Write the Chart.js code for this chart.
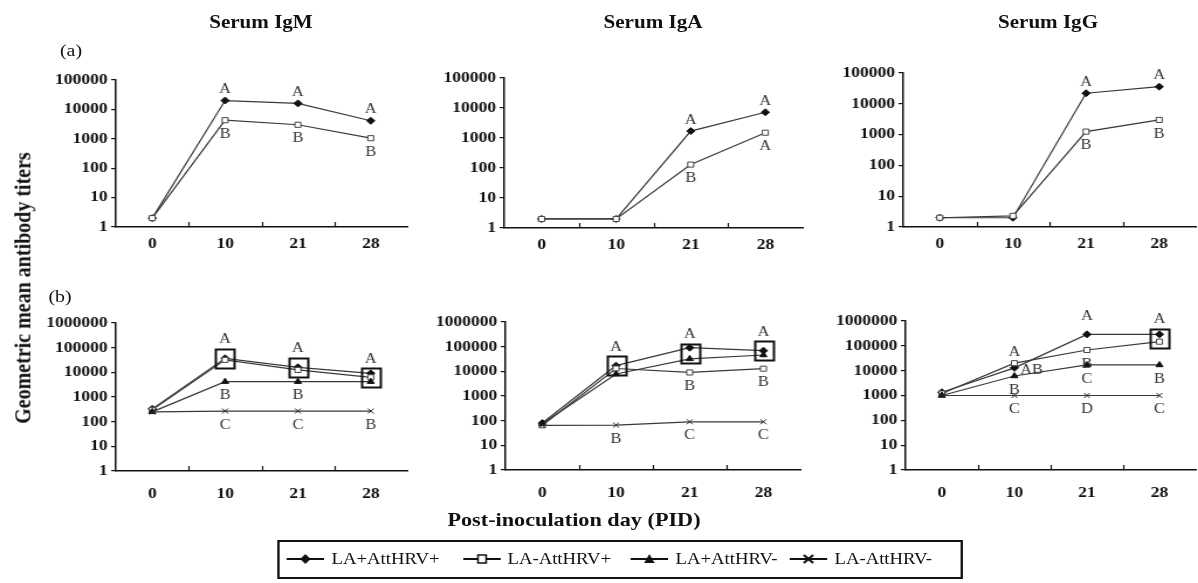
<!DOCTYPE html>
<html>
<head>
<meta charset="utf-8">
<script src="https://cdn.jsdelivr.net/npm/chart.js@4.4.1/dist/chart.umd.min.js"></script>
<style>
  html, body { margin: 0; padding: 0; background: #fff; }
  body { width: 1198px; height: 583px; overflow: hidden; position: relative; }
  #page {
    position: absolute; left: 0; top: 0; width: 1024px; height: 583px;
    transform: scaleX(1.17); transform-origin: 0 0;
    font-family: "Liberation Serif", "Times New Roman", serif; color: #111;
  }
  .t { position: absolute; white-space: nowrap; line-height: 1; }
  canvas { position: absolute; }
  #legend { position: absolute; border: 2px solid #111; box-sizing: border-box; }
  .item { position: absolute; display: flex; align-items: center; }
  .item canvas { position: static; margin-right: 6px; }
  .item span { font-size: 16px; }
</style>
</head>
<body>
<div id="page"></div>
<script>
// ---- data ----
const DAYS = ["0", "10", "21", "28"];
const GROUPS = ["LA+AttHRV+", "LA-AttHRV+", "LA+AttHRV-", "LA-AttHRV-"];

// (a) row: two groups
const igmA_LApAttp = [2, 20000, 16000, 4100];
const igmA_LAmAttp = [2, 4300, 3000, 1050];
const igaA_LApAttp = [2, 2, 1700, 7200];
const igaA_LAmAttp = [2, 2, 130, 1500];
const iggA_LApAttp = [2, 2, 22000, 36000];
const iggA_LAmAttp = [2, 2.3, 1250, 3000];

// (b) row: four groups
const igmB_LApAttp = [330, 37000, 16000, 9100];
const igmB_LAmAttp = [300, 32000, 12500, 6300];
const igmB_LApAttm = [250, 4200, 4200, 4200];
const igmB_LAmAttm = [250, 270, 270, 270];

const igaB_LApAttp = [80, 17000, 91000, 69000];
const igaB_LAmAttp = [65, 13000, 9000, 12800];
const igaB_LApAttm = [75, 7800, 32000, 46000];
const igaB_LAmAttm = [65, 66, 90, 90];

const iggB_LApAttp = [1350, 13000, 290000, 290000];
const iggB_LAmAttp = [1200, 20000, 68000, 147000];
const iggB_LApAttm = [1000, 6100, 17000, 17000];
const iggB_LAmAttm = [1000, 1000, 1000, 1000];

// significance letters: [group, day index, letter, placement]
const igmA_letters = [[0, 1, "A", "above"], [1, 1, "B", "below"], [0, 2, "A", "above"], [1, 2, "B", "below"], [0, 3, "A", "above"], [1, 3, "B", "below"]];
const igaA_letters = [[0, 2, "A", "above"], [1, 2, "B", "below"], [0, 3, "A", "above"], [1, 3, "A", "below"]];
const iggA_letters = [[0, 2, "A", "above"], [1, 2, "B", "below"], [0, 3, "A", "above"], [1, 3, "B", "below"]];
const igmB_letters = [[0, 1, "A", "box"], [2, 1, "B", "below"], [3, 1, "C", "below"],
                      [0, 2, "A", "box"], [2, 2, "B", "below"], [3, 2, "C", "below"],
                      [0, 3, "A", "box"], [3, 3, "B", "below"]];
const igaB_letters = [[0, 1, "A", "box"], [3, 1, "B", "below"],
                      [0, 2, "A", "box"], [1, 2, "B", "below"], [3, 2, "C", "below"],
                      [0, 3, "A", "box"], [1, 3, "B", "below"], [3, 3, "C", "below"]];
const iggB_letters = [[1, 1, "A", "above"], [0, 1, "AB", "right"], [2, 1, "B", "below"], [3, 1, "C", "below"],
                      [0, 2, "A", "high"], [1, 2, "B", "below"], [2, 2, "C", "below"], [3, 2, "D", "below"],
                      [0, 3, "A", "box"], [2, 3, "B", "below"], [3, 3, "C", "below"]];

// highlight boxes: [day index, groups the box is centred on]
const igmB_boxes = [[1, [0]], [2, [0]], [3, [0, 2]]];
const igaB_boxes = [[1, [0]], [2, [0, 2]], [3, [0]]];
const iggB_boxes = [[3, [0, 1]]];

// ---- layout & style ----
const K = 1.17;                 // horizontal stretch of the whole figure
const sx = (x) => x / K;        // reference px -> page px
const FONT = "Liberation Serif";
const AXIS = "#111";
const LINE = "#383838";
const YW = 80, XH = 34, PADT = 14, PADR = 6;
const BOX_W = 16, BOX_H = 19;
const GAP = { above: 11, below: 14, high: 18 };

const STYLES = [
  { pointStyle: "rectRot", radius: 3.5, fill: "#111", stroke: "#111" },
  { pointStyle: "rect", radius: 3.6, fill: "#fff", stroke: "#444" },
  { pointStyle: "triangle", radius: 3.5, fill: "#111", stroke: "#111" },
  { pointStyle: "crossRot", radius: 3.5, fill: "#111", stroke: "#222" },
];

const PANELS = [
  { area: [116, 407, 80, 227], yMax: 1e5, series: [igmA_LApAttp, igmA_LAmAttp], letters: igmA_letters, boxes: [], pad: 8 },
  { area: [504, 802, 78, 228], yMax: 1e5, series: [igaA_LApAttp, igaA_LAmAttp], letters: igaA_letters, boxes: [], pad: 8 },
  { area: [903, 1195, 73, 227], yMax: 1e5, series: [iggA_LApAttp, iggA_LAmAttp], letters: iggA_letters, boxes: [], pad: 8 },
  { area: [116, 407, 323, 471], yMax: 1e6, series: [igmB_LApAttp, igmB_LAmAttp, igmB_LApAttm, igmB_LAmAttm], letters: igmB_letters, boxes: igmB_boxes, pad: 14 },
  { area: [505, 800, 322, 470], yMax: 1e6, series: [igaB_LApAttp, igaB_LAmAttp, igaB_LApAttm, igaB_LAmAttm], letters: igaB_letters, boxes: igaB_boxes, pad: 14 },
  { area: [905, 1195, 321, 470], yMax: 1e6, series: [iggB_LApAttp, iggB_LAmAttp, iggB_LApAttm, iggB_LAmAttm], letters: iggB_letters, boxes: iggB_boxes, pad: 14 },
];

const page = document.getElementById("page");

function addText(text, cx, cy, css) {
  const el = document.createElement("div");
  el.className = "t";
  el.textContent = text;
  el.style.left = sx(cx) + "px";
  el.style.top = cy + "px";
  el.style.transform = "translate(-50%, -50%)" + (css.rotate ? " rotate(-90deg)" : "");
  el.style.fontSize = css.size + "px";
  el.style.fontWeight = css.bold ? "bold" : "normal";
  page.appendChild(el);
  return el;
}

// x ticks point up into the plot, at the category boundaries
const innerTicks = {
  id: "innerTicks",
  afterDraw(chart) {
    const { ctx, chartArea } = chart;
    const x = chart.scales.x;
    ctx.save();
    ctx.strokeStyle = AXIS;
    ctx.lineWidth = 1.2;
    for (let i = 1; i < DAYS.length; i++) {
      const px = Math.round((x.getPixelForValue(i - 1) + x.getPixelForValue(i)) / 2) + 0.5;
      ctx.beginPath();
      ctx.moveTo(px, chartArea.bottom);
      ctx.lineTo(px, chartArea.bottom - 5);
      ctx.stroke();
    }
    ctx.restore();
  },
};

// significance letters and highlight boxes
const letterMarks = {
  id: "letterMarks",
  afterDatasetsDraw(chart, args, opts) {
    const { ctx } = chart;
    const x = chart.scales.x, y = chart.scales.y;
    const sets = chart.data.datasets;
    const boxCenter = {};
    ctx.save();
    ctx.strokeStyle = AXIS;
    ctx.lineWidth = 2;
    for (const [i, groups] of opts.boxes) {
      const lv = groups.reduce((s, g) => s + Math.log10(sets[g].data[i]), 0) / groups.length;
      const cx = x.getPixelForValue(i);
      const cy = y.getPixelForValue(Math.pow(10, lv));
      boxCenter[i] = cy;
      ctx.strokeRect(Math.round(cx - BOX_W / 2) + 0.5, Math.round(cy - BOX_H / 2) + 0.5, BOX_W, BOX_H);
    }
    ctx.fillStyle = "#333";
    ctx.font = "14px '" + FONT + "'";
    ctx.textBaseline = "middle";
    for (const [g, i, text, place] of opts.letters) {
      const px = x.getPixelForValue(i);
      const py = y.getPixelForValue(sets[g].data[i]);
      ctx.textAlign = "center";
      if (place === "box") {
        ctx.fillText(text, px, boxCenter[i] - BOX_H / 2 - 9);
      } else if (place === "right") {
        ctx.textAlign = "left";
        ctx.fillText(text, px + 5, py + 2);
      } else if (place === "below") {
        ctx.fillText(text, px, py + GAP.below);
      } else {
        ctx.fillText(text, px, py - GAP[place]);
      }
    }
    ctx.restore();
  },
};

function decades(max) {
  const out = [];
  for (let v = 1; v <= max; v *= 10) out.push({ value: v });
  return out;
}

PANELS.forEach((p) => {
  const [L, R, T, B] = p.area;
  const canvas = document.createElement("canvas");
  const w = Math.round(YW + sx(R) - sx(L) + PADR);
  const h = Math.round(PADT + (B - T) + XH);
  canvas.width = w;
  canvas.height = h;
  canvas.style.left = (sx(L) - YW) + "px";
  canvas.style.top = (T - PADT) + "px";
  canvas.style.width = w + "px";
  canvas.style.height = h + "px";
  page.appendChild(canvas);

  new Chart(canvas, {
    type: "line",
    data: {
      labels: DAYS,
      datasets: p.series.map((data, k) => ({
        label: GROUPS[k],
        data,
        borderColor: LINE,
        borderWidth: 1.2,
        pointStyle: STYLES[k].pointStyle,
        pointRadius: STYLES[k].radius,
        pointBackgroundColor: STYLES[k].fill,
        pointBorderColor: STYLES[k].stroke,
        pointBorderWidth: 1,
        tension: 0,
        fill: false,
        order: 4 - k,
      })),
    },
    options: {
      responsive: false,
      animation: false,
      devicePixelRatio: 1,
      layout: { padding: { top: PADT, right: PADR, left: 0, bottom: 0 } },
      scales: {
        x: {
          type: "category",
          offset: true,
          grid: { display: false, drawTicks: false },
          border: { display: true, color: AXIS, width: 1.5 },
          ticks: { color: AXIS, padding: p.pad, font: { family: FONT, size: 15, weight: "bold" } },
          afterFit: (s) => { s.height = XH; },
        },
        y: {
          type: "logarithmic",
          min: 1,
          max: p.yMax,
          afterBuildTicks: (s) => { s.ticks = decades(p.yMax); },
          afterFit: (s) => { s.width = YW; },
          grid: { drawOnChartArea: false, drawTicks: true, tickLength: 4, color: AXIS, lineWidth: 1.2 },
          border: { display: true, color: AXIS, width: 1.5 },
          ticks: {
            color: AXIS, padding: 3, autoSkip: false,
            font: { family: FONT, size: 15, weight: "bold" },
            callback: (v) => String(v),
          },
        },
      },
      plugins: {
        legend: { display: false },
        tooltip: { enabled: false },
        letterMarks: { letters: p.letters, boxes: p.boxes },
      },
    },
    plugins: [innerTicks, letterMarks],
  });
});

// ---- titles ----
addText("Serum IgM", 261, 22, { size: 18, bold: true });
addText("Serum IgA", 653, 22, { size: 18, bold: true });
addText("Serum IgG", 1048, 22, { size: 18, bold: true });
addText("(a)", 71, 50, { size: 17 });
addText("(b)", 60, 296, { size: 17 });
addText("Geometric mean antibody titers", 22, 288, { size: 20, bold: true, rotate: true });
addText("Post-inoculation day (PID)", 574, 519, { size: 19, bold: true });

// ---- legend ----
const legend = document.createElement("div");
legend.id = "legend";
legend.style.left = sx(277) + "px";
legend.style.top = "540px";
legend.style.width = (sx(963) - sx(277)) + "px";
legend.style.height = "39px";
page.appendChild(legend);

const LEGEND_X = [287, 463, 631, 790];

function drawSymbol(ctx, k, cx, cy) {
  ctx.fillStyle = STYLES[k].fill;
  ctx.strokeStyle = "#111";
  ctx.lineWidth = 1.5;
  ctx.beginPath();
  if (k === 0) {
    ctx.moveTo(cx, cy - 5); ctx.lineTo(cx + 4.5, cy); ctx.lineTo(cx, cy + 5); ctx.lineTo(cx - 4.5, cy);
    ctx.closePath(); ctx.fill();
  } else if (k === 1) {
    ctx.rect(cx - 3.5, cy - 4, 7, 8); ctx.fill(); ctx.stroke();
  } else if (k === 2) {
    ctx.moveTo(cx, cy - 5); ctx.lineTo(cx + 4.5, cy + 4); ctx.lineTo(cx - 4.5, cy + 4);
    ctx.closePath(); ctx.fill();
  } else {
    ctx.lineWidth = 2;
    ctx.moveTo(cx - 4, cy - 4); ctx.lineTo(cx + 4, cy + 4);
    ctx.moveTo(cx + 4, cy - 4); ctx.lineTo(cx - 4, cy + 4);
    ctx.stroke();
  }
}

GROUPS.forEach((name, k) => {
  const item = document.createElement("div");
  item.className = "item";
  item.style.left = sx(LEGEND_X[k]) + "px";
  item.style.top = "550px";
  item.style.height = "18px";
  const c = document.createElement("canvas");
  c.width = 32; c.height = 16;
  c.style.width = "32px"; c.style.height = "16px";
  const ctx = c.getContext("2d");
  ctx.strokeStyle = "#111";
  ctx.lineWidth = 2;
  ctx.beginPath(); ctx.moveTo(0, 8); ctx.lineTo(32, 8); ctx.stroke();
  drawSymbol(ctx, k, 16, 8);
  const label = document.createElement("span");
  label.textContent = name;
  item.appendChild(c);
  item.appendChild(label);
  page.appendChild(item);
});
</script>
</body>
</html>
